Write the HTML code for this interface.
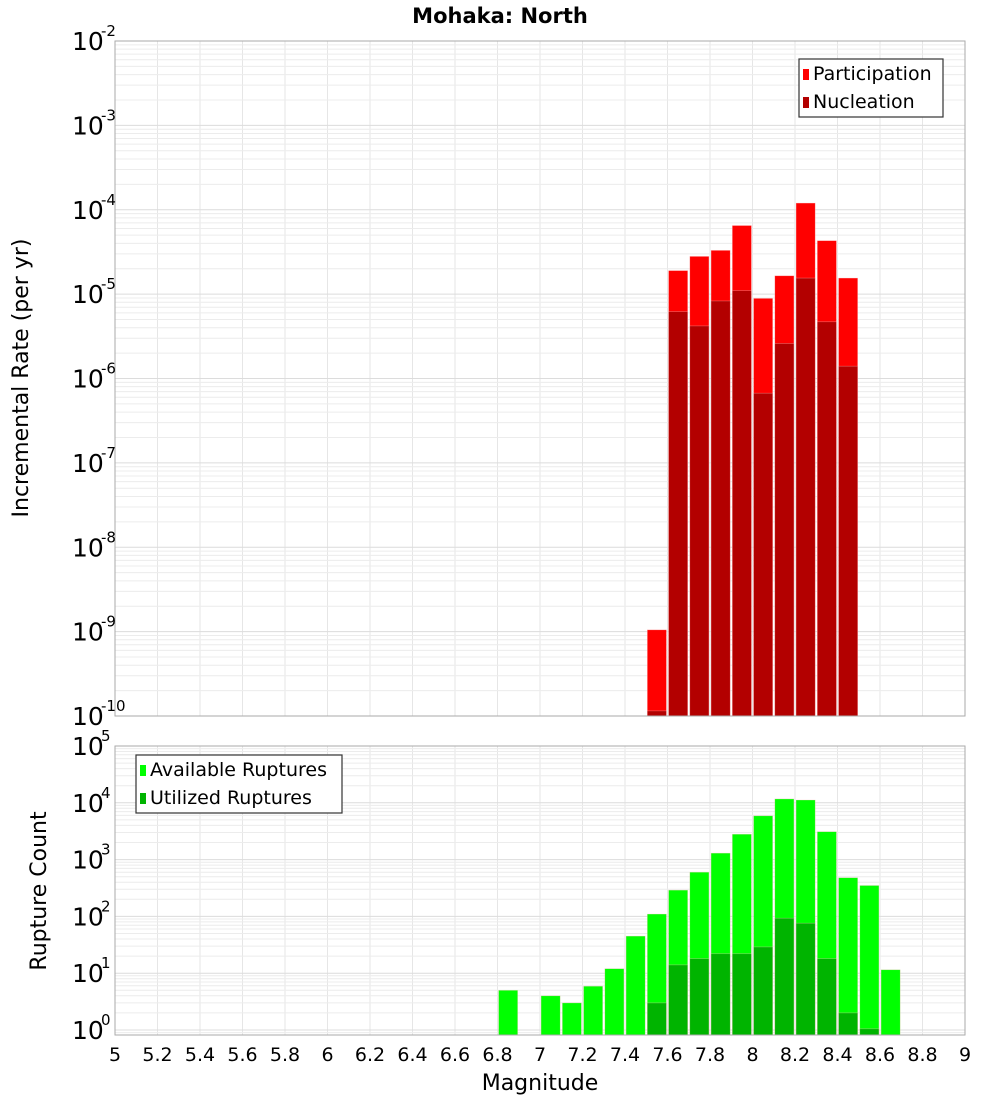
<!DOCTYPE html>
<html><head><meta charset="utf-8"><style>
body{margin:0;background:#fff;font-family:"DejaVu Sans","Liberation Sans",sans-serif;}
svg text{font-family:"DejaVu Sans","Liberation Sans",sans-serif;}
</style></head><body>
<svg id="c" width="1000" height="1100" xmlns="http://www.w3.org/2000/svg">
<rect width="1000" height="1100" fill="#fff"/>
<text x="500" y="23" text-anchor="middle" font-size="21" font-weight="bold">Mohaka: North</text>
<text transform="translate(28,378) rotate(-90)" text-anchor="middle" font-size="22">Incremental Rate (per yr)</text>
<text transform="translate(46,891) rotate(-90)" text-anchor="middle" font-size="22">Rupture Count</text>
<text x="540" y="1090" text-anchor="middle" font-size="22">Magnitude</text>
</svg>
<script>
const mags=[7.55,7.65,7.75,7.85,7.95,8.05,8.15,8.25,8.35,8.45];
const participation=[1.05e-9,1.9e-5,2.8e-5,3.3e-5,6.5e-5,8.9e-6,1.65e-5,1.2e-4,4.3e-5,1.55e-5];
const nucleation=[1.15e-10,6.2e-6,4.2e-6,8.3e-6,1.1e-5,6.7e-7,2.6e-6,1.55e-5,4.7e-6,1.4e-6];
const availMags=[6.85,7.05,7.15,7.25,7.35,7.45,7.55,7.65,7.75,7.85,7.95,8.05,8.15,8.25,8.35,8.45,8.55,8.65];
const available=[5,4,3,5.9,12,45,110,290,600,1300,2800,5900,11700,11200,3100,480,350,11.5];
const utilMags=[7.55,7.65,7.75,7.85,7.95,8.05,8.15,8.25,8.35,8.45,8.55];
const utilized=[3,14,18,22,22,29,93,76,18,2,1.05];
const xTicks=[5,5.2,5.4,5.6,5.8,6,6.2,6.4,6.6,6.8,7,7.2,7.4,7.6,7.8,8,8.2,8.4,8.6,8.8,9];
const topExps=[-2,-3,-4,-5,-6,-7,-8,-9,-10];
const botExps=[5,4,3,2,1,0];

const svg=document.getElementById('c');
const NS='http://www.w3.org/2000/svg';
function mk(tag,attrs,parent){const e=document.createElementNS(NS,tag);for(const k in attrs)e.setAttribute(k,attrs[k]);(parent||svg).appendChild(e);return e;}
const X0=115,X1=965;
const xs=m=>X0+(m-5)/4*(X1-X0);
const T0=41,T1=716;
const yTop=v=>T0+(-2-Math.log10(v))*(T1-T0)/8;
const B0=746,B1=1035,BD=56.8;
const yBot=v=>B0+(5-Math.log10(v))*BD;

function grid(y0,y1,expHi,expLo,yf){
  for(const t of xTicks){const l=mk('line',{x1:xs(t),x2:xs(t),y1:y0,y2:y1,stroke:'#e6e6e6','stroke-width':1});
    }
  for(let e=expLo-1;e<expHi;e++){for(let k=1;k<10;k++){const y=yf(k*Math.pow(10,e));if(y<y0||y>y1)continue;
    const l=mk('line',{x1:X0,x2:X1,y1:y,y2:y,stroke:k==1?'#dcdcdc':'#ececec','stroke-width':1});
    }}
}
grid(T0,T1,-2,-10,yTop);
grid(B0,B1,5,0,yBot);

function bars(ms,vals,yf,base,color,name){
  ms.forEach((m,i)=>{const y=yf(vals[i]);const x=xs(m-0.045);const w=xs(m+0.045)-x;
    const r=mk('rect',{x:x,y:y,width:w,height:base-y,fill:color,stroke:'rgba(255,200,200,0.5)','stroke-width':0.6});
    });
}
bars(mags,participation,yTop,T1,'#ff0000','participation-bar');
bars(mags,nucleation,yTop,T1,'#b30000','nucleation-bar');
bars(availMags,available,yBot,B1,'#00ff00','available-bar');
bars(utilMags,utilized,yBot,B1,'#00b400','utilized-bar');

const f1=mk('rect',{x:X0,y:T0,width:X1-X0,height:T1-T0,fill:'none',stroke:'#aaa'});

const f2=mk('rect',{x:X0,y:B0,width:X1-X0,height:B1-B0,fill:'none',stroke:'#aaa'});


function ylab(exps,yf,nm){exps.forEach(e=>{const y=yf(Math.pow(10,e));
  const t=mk('text',{x:72,y:y+9,'font-size':25});t.textContent='10';
  
  const s=mk('text',{x:101,y:y-5,'font-size':15});s.textContent=String(e);
  });}
ylab(topExps,yTop,'top-y-tick-label');
ylab(botExps,yBot,'bottom-y-tick-label');

xTicks.forEach(t=>{const l=mk('text',{x:xs(t),y:1061,'font-size':19,'text-anchor':'middle'});l.textContent=String(t);
  });

function legend(x,y,w,items,nm){const g=mk('g',{});
  mk('rect',{x:x,y:y,width:w,height:58,fill:'#fff',stroke:'#333','stroke-width':1.2},g);
  items.forEach((it,i)=>{const sw=mk('rect',{x:x+4,y:y+10+i*28,width:6,height:11,fill:it[1]},g);
    
    const t=mk('text',{x:x+14,y:y+21+i*28,'font-size':19},g);t.textContent=it[0];
    });}
legend(799,59,144,[['Participation','#ff0000'],['Nucleation','#b30000']],'top-legend');
legend(136,755,206,[['Available Ruptures','#00ff00'],['Utilized Ruptures','#00b400']],'bottom-legend');
</script>
</body></html>
